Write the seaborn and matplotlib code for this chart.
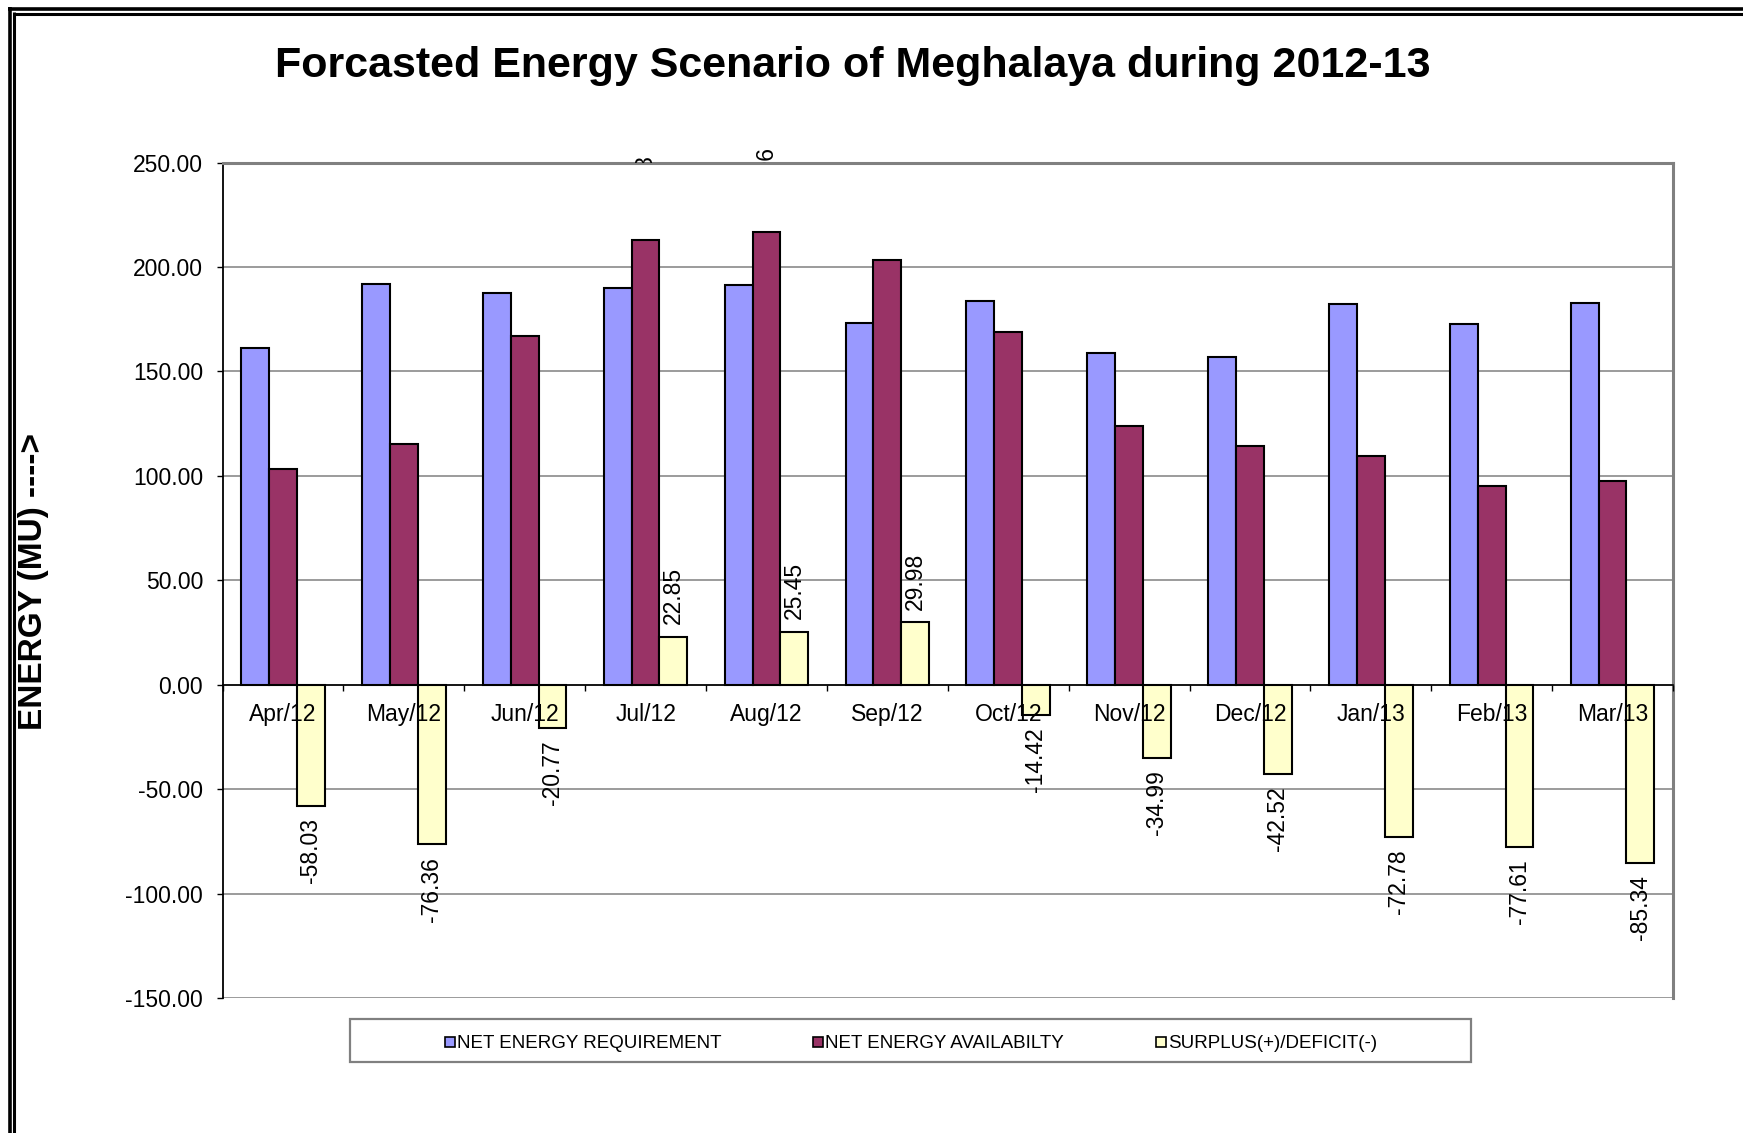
import numpy as np
import pandas as pd
import matplotlib
matplotlib.use("Agg")
import matplotlib.pyplot as plt
import seaborn as sns
from matplotlib.lines import Line2D
from matplotlib.patches import Rectangle
from matplotlib.ticker import FixedLocator, FormatStrFormatter
from matplotlib.transforms import Bbox, TransformedBbox

# data
months = ["Apr/12", "May/12", "Jun/12", "Jul/12", "Aug/12", "Sep/12",
          "Oct/12", "Nov/12", "Dec/12", "Jan/13", "Feb/13", "Mar/13"]
requirement = [161.20, 191.78, 187.75, 189.98, 191.51, 173.20,
               183.48, 158.86, 156.94, 182.36, 172.83, 182.67]
availability = [103.17, 115.42, 166.98, 212.83, 216.96, 203.18,
                169.06, 123.87, 114.42, 109.58, 95.22, 97.33]
surplus = [-58.03, -76.36, -20.77, 22.85, 25.45, 29.98,
           -14.42, -34.99, -42.52, -72.78, -77.61, -85.34]
series_names = ["NET ENERGY REQUIREMENT", "NET ENERGY AVAILABILTY", "SURPLUS(+)/DEFICIT(-)"]
colors = ["#9999FF", "#993366", "#FFFFCC"]

W, H = 1743, 1133

sns.set_style("white")
plt.rcParams["font.family"] = ["Liberation Sans", "DejaVu Sans"]
plt.rcParams.update({"text.color": "black", "axes.labelcolor": "black",
                     "xtick.color": "black", "ytick.color": "black"})

df = pd.DataFrame({
    "month": months * 3,
    "series": np.repeat(series_names, len(months)),
    "value": requirement + availability + surplus,
})

fig = plt.figure(figsize=(W / 100, H / 100), dpi=100)
ax = fig.add_axes([222.5 / W, 1 - 998 / H, (1673 - 222.5) / W, (998 - 162.5) / H])

sns.barplot(data=df, x="month", y="value", hue="series", hue_order=series_names,
            order=months, palette=colors, saturation=1, width=0.69,
            edgecolor="black", linewidth=1.5, errorbar=None, legend=False, ax=ax)

ax.set_xlabel("")
ax.set_ylabel("")
ax.set_ylim(-150, 250)
ax.set_xlim(-0.5, len(months) - 0.5)
ax.set_yticks(np.arange(-150, 251, 50))
ax.yaxis.set_major_formatter(FormatStrFormatter("%.2f"))
ax.set_axisbelow(True)
ax.yaxis.grid(True, color="#808080", linewidth=1.1)
# month labels sit on top of the bars, as in the original
ax.xaxis.set_zorder(5)

# spines: category axis crosses at zero
ax.spines["bottom"].set_position(("data", 0))
ax.spines["bottom"].set_color("black")
ax.spines["bottom"].set_linewidth(1.2)
ax.spines["left"].set_color("black")
ax.spines["left"].set_linewidth(1.3)
for side in ["top", "right"]:
    ax.spines[side].set_color("#808080")
    ax.spines[side].set_linewidth(2.2)

ax.tick_params(axis="y", which="major", left=True, length=4, width=1, pad=10,
               labelsize=16.5, color="black")
ax.tick_params(axis="x", which="major", length=0, pad=13.5, labelsize=16.5)
ax.xaxis.set_minor_locator(FixedLocator(np.arange(-0.5, len(months), 1)))
ax.tick_params(axis="x", which="minor", bottom=True, length=4, width=1, color="black")

# surplus labels
ax.bar_label(ax.containers[2], fmt="%.2f", rotation=90, padding=9, fontsize=16.5)

# labels of the other two series only show where they spill above the plot area
clip = TransformedBbox(Bbox([[0, 1.0], [1, 1.5]]), ax.transAxes)
for cont in ax.containers[:2]:
    for t in ax.bar_label(cont, fmt="%.2f", rotation=90, padding=11.5, fontsize=16.5):
        t.set_clip_path(None)
        t.set_clip_box(clip)
        t.set_clip_on(True)

# title and axis label
fig.text(853 / W, 1 - 77 / H, "Forcasted Energy Scenario of Meghalaya during 2012-13",
         ha="center", va="baseline", fontsize=31, fontweight="bold")
fig.text(34 / W, 1 - 582 / H, "ENERGY (MU) ---->", rotation=90, ha="center", va="center",
         fontsize=24, fontweight="bold")

# legend with its own box
handles = [Line2D([0], [0], marker="s", linestyle="none", markersize=7,
                  markerfacecolor=c, markeredgecolor="black", markeredgewidth=1.2)
           for c in colors]
fig.legend(handles, series_names, loc="center", bbox_to_anchor=(911 / W, 1 - 1043.5 / H),
           ncol=3, frameon=False, fontsize=13.5, handlelength=0.55, handletextpad=0.1,
           columnspacing=4.9)
fig.patches.append(Rectangle((350 / W, 1 - 1062 / H), 1121 / W, 43 / H,
                             transform=fig.transFigure, fill=False,
                             edgecolor="#808080", linewidth=1.6))

# double frame on top and left
def frame_line(xs, ys, lw):
    fig.add_artist(Line2D([x / W for x in xs], [1 - y / H for y in ys],
                          transform=fig.transFigure, color="black", linewidth=lw,
                          solid_capstyle="butt"))

frame_line([8, W], [8.5, 8.5], 2.6)
frame_line([13, W], [13.5, 13.5], 2.2)
frame_line([9.5, 9.5], [7, H], 2.6)
frame_line([14, 14], [12, H], 2.2)

fig.savefig("out.png", dpi=100)
